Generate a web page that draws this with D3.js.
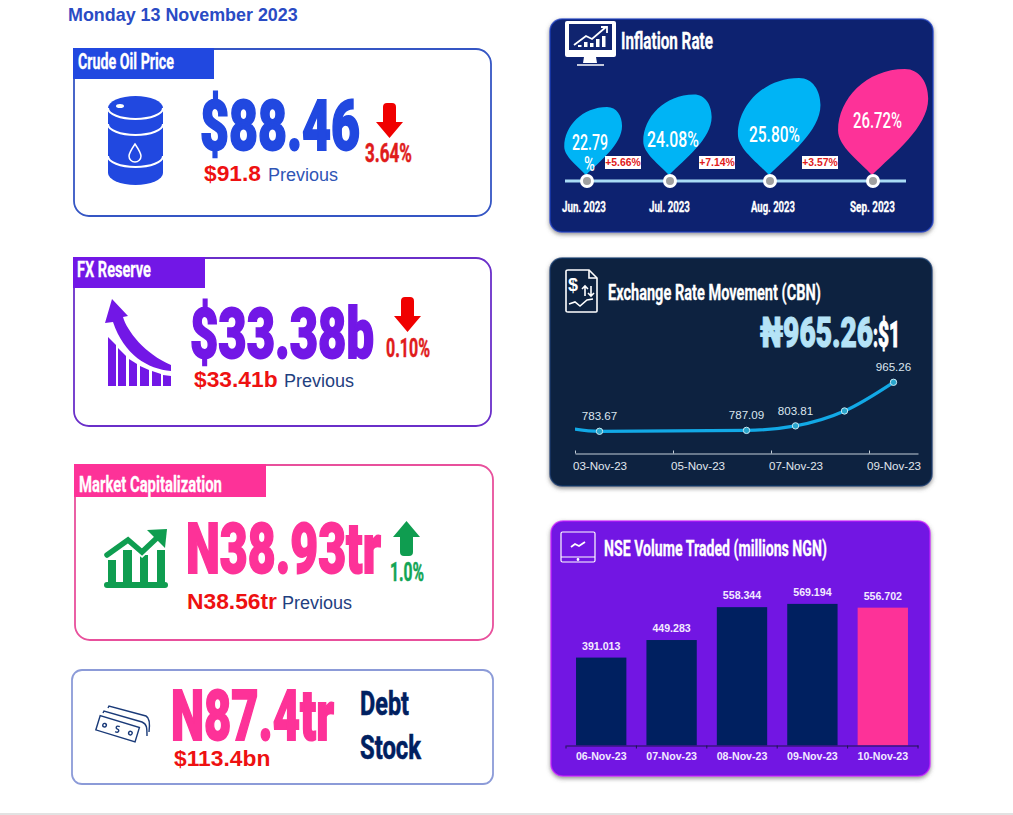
<!DOCTYPE html>
<html>
<head>
<meta charset="utf-8">
<script src="https://cdn.jsdelivr.net/npm/d3@7"></script>
<style>
  html, body { margin: 0; padding: 0; background: #fff; overflow: hidden; }
  svg { display: block; }
</style>
</head>
<body>
<svg id="chart" width="1013" height="815"></svg>
<script>
// Data
const kpiTitles = ['Crude Oil Price', 'FX Reserve', 'Market Capitalization'];
const kpiValues = ['$88.46', '$33.38b', 'N38.93tr'];
const kpiPrevious = ['$91.8', '$33.41b', 'N38.56tr'];
const kpiChanges = ['3.64%', '0.10%', '1.0%'];

const inflationMonths = ['Jun. 2023', 'Jul. 2023', 'Aug. 2023', 'Sep. 2023'];
const inflationRates = [22.79, 24.08, 25.80, 26.72];
const inflationDeltas = ['+5.66%', '+7.14%', '+3.57%'];

// 02-Nov only exists to carry the line in from the left edge of the plot
const rateDates = ['2023-11-02', '2023-11-03', '2023-11-06', '2023-11-07', '2023-11-08', '2023-11-09'];
const rateValues = [808, 783.67, 787.09, 803.81, 859, 965.26];
const rateLabels = ['', '783.67', '787.09', '803.81', '', '965.26'];

const volumeDates = ['06-Nov-23', '07-Nov-23', '08-Nov-23', '09-Nov-23', '10-Nov-23'];
const volumeValues = [391.013, 449.283, 558.344, 569.194, 556.702];

// Colours
const BLUE = '#2148e0', PURPLE = '#7217e6', PINK = '#fd3298', GREEN = '#0f9d50', RED = '#ee1111';
const NAVY = '#002060', SKY = '#00b4f5';

const svg = d3.select('#chart');

let defs = svg.append('defs');
let shadow = defs.append('filter').attr('id', 'panelShadow')
    .attr('x', '-5%').attr('y', '-5%').attr('width', '110%').attr('height', '112%');
shadow.append('feDropShadow').attr('dx', 0).attr('dy', 2).attr('stdDeviation', 2)
    .attr('flood-color', '#555').attr('flood-opacity', 0.65);

const NARROW = 'Roboto, "Liberation Sans", sans-serif';
const ARIAL = '"Liberation Sans", Arial, sans-serif';

// Squeezed text, stands in for the condensed display face of the original.
// Scaled rather than textLength so the text box stays true to what is drawn.
function fit(g, str, x, y, w, size, fill, weight = 700, thick = 0.3) {
    let t = g.append('text')
        .attr('transform', `translate(${x},${y})`)
        .attr('font-family', NARROW).attr('font-weight', weight)
        .attr('font-size', size).attr('fill', fill)
        .attr('stroke', fill).attr('stroke-width', thick)
        .text(str);
    let len = t.node().getComputedTextLength();
    t.attr('transform', `translate(${x},${y}) scale(${w / len},1)`);
    return t;
}

function plain(g, str, x, y, size, fill, weight = 400, anchor = 'start') {
    return g.append('text')
        .attr('x', x).attr('y', y)
        .attr('font-family', ARIAL).attr('font-weight', weight)
        .attr('font-size', size).attr('fill', fill)
        .attr('text-anchor', anchor)
        .text(str);
}

function arrow(g, x, y, color, up) {
    // 27 wide, 35 tall box
    let p = up ? 'M13.5,0 L27,16 L20,16 L20,31 Q20,35 16,35 L11,35 Q7,35 7,31 L7,16 L0,16 Z'
               : 'M13.5,35 L27,19 L20,19 L20,4 Q20,0 16,0 L11,0 Q7,0 7,4 L7,19 L0,19 Z';
    g.append('path').attr('transform', `translate(${x},${y})`).attr('d', p).attr('fill', color);
}

///////////////////////////////////////////////////////////////////////////
// Left column
///////////////////////////////////////////////////////////////////////////

plain(svg, 'Monday 13 November 2023', 68, 20.5, 17.9, '#2a4bc4', 700);

const cards = [
    {x: 74, y: 49, w: 417, h: 167, color: BLUE, stroke: '#3556c4', tab: 140, tabH: 30, titleX: 78, titleY: 69, titleW: 96,
     bigX: 200, bigY: 150, bigW: 160, arrowX: 376, arrowY: 103, up: false, chgX: 365, chgY: 162, chgW: 47,
     prevX: 204, prevY: 181, prevWord: 268, word: '#2f55b5'},
    {x: 74, y: 258, w: 417, h: 168, color: PURPLE, stroke: '#6a2fc9', tab: 131, tabH: 30, titleX: 77, titleY: 277, titleW: 74,
     bigX: 190, bigY: 358, bigW: 184, arrowX: 394, arrowY: 297, up: false, chgX: 386, chgY: 357, chgW: 44,
     prevX: 194, prevY: 387, prevWord: 284, word: '#1f4080'},
    {x: 75, y: 465, w: 418, h: 175, color: PINK, stroke: '#e8509c', tab: 191, tabH: 32, titleX: 79, titleY: 492, titleW: 143,
     bigX: 186, bigY: 573, bigW: 195, arrowX: 393, arrowY: 521, up: true, chgX: 390, chgY: 581, chgW: 34,
     prevX: 187, prevY: 609, prevWord: 282, word: '#1f4080'}
];

cards.forEach(function(c, i) {
    let g = svg.append('g');
    g.append('rect').attr('x', c.x).attr('y', c.y).attr('width', c.w).attr('height', c.h)
        .attr('rx', 15).attr('fill', '#fff').attr('stroke', c.stroke).attr('stroke-width', 1.8);
    g.append('rect').attr('x', c.x - 1).attr('y', c.y - 1).attr('width', c.tab + 1).attr('height', c.tabH + 1)
        .attr('fill', c.color);
    fit(g, kpiTitles[i], c.titleX, c.titleY, c.titleW, 22, '#fff');
    fit(g, kpiValues[i], c.bigX, c.bigY, c.bigW, 71, c.color, 900, 1.8);
    arrow(g, c.arrowX, c.arrowY, c.up ? GREEN : '#f00000', c.up);
    fit(g, kpiChanges[i], c.chgX, c.chgY, c.chgW, 25, c.up ? '#12a555' : '#e01b1b', 700, 0.5);
    plain(g, kpiPrevious[i], c.prevX, c.prevY, 22.8, RED, 700);
    plain(g, 'Previous', c.prevWord, c.prevY, 18, c.word);
});

// Debt card has its own layout
let debt = svg.append('g');
debt.append('rect').attr('x', 72).attr('y', 670).attr('width', 421).attr('height', 114)
    .attr('rx', 10).attr('fill', '#fff').attr('stroke', '#8c9bd8').attr('stroke-width', 1.8);
fit(debt, 'N87.4tr', 171, 740, 163, 71, PINK, 900, 1.8);
plain(debt, '$113.4bn', 174, 766, 22.8, RED, 700);
fit(debt, 'Debt', 360, 715, 49, 33, NAVY, 700, 0.6);
fit(debt, 'Stock', 360, 759, 61, 33, NAVY, 700, 0.6);

// Barrel
let barrel = svg.append('g');
barrel.append('path').attr('d', 'M108,108 A27.5,12 0 0 1 163,108 V173 A27.5,12 0 0 1 108,173 Z').attr('fill', BLUE);
['M108,108 A27.5,11 0 0 0 163,108', 'M108,124 A27.5,11 0 0 0 163,124', 'M108,156 A27.5,11 0 0 0 163,156'].forEach(function(d) {
    barrel.append('path').attr('d', d).attr('fill', 'none').attr('stroke', '#fff').attr('stroke-width', 2);
});
barrel.append('ellipse').attr('cx', 120).attr('cy', 106).attr('rx', 4).attr('ry', 2).attr('fill', '#fff');
barrel.append('path').attr('d', 'M135,144 C139,150 141,153 141,156 A6,6 0 0 1 129,156 C129,153 131,150 135,144 Z')
    .attr('fill', 'none').attr('stroke', '#fff').attr('stroke-width', 1.5);

// FX reserve bars with the curved arrow
let fxIcon = svg.append('g').attr('fill', PURPLE);
fxIcon.append('path').attr('d', 'M108,337 L116,345 V386 H108 Z');
fxIcon.append('path').attr('d', 'M118,348 L126,356 V386 H118 Z');
fxIcon.append('path').attr('d', 'M129,359 L137,364 V386 H129 Z');
fxIcon.append('path').attr('d', 'M140,366 L149,370 V386 H140 Z');
fxIcon.append('path').attr('d', 'M152,371 L161,374 V386 H152 Z');
fxIcon.append('path').attr('d', 'M163,375 L171,376 V386 H163 Z');
fxIcon.append('path').attr('d', 'M112,299 L128,316 L123,317 C127,331 145,354 171,365 V371 C148,369 124,355 113,322 L105,323 Z');

// Market cap bars with the rising line
let capIcon = svg.append('g').attr('fill', GREEN);
capIcon.append('rect').attr('x', 104).attr('y', 582).attr('width', 64).attr('height', 6).attr('rx', 3);
capIcon.append('rect').attr('x', 108).attr('y', 560).attr('width', 8).attr('height', 22);
capIcon.append('rect').attr('x', 123).attr('y', 550).attr('width', 9).attr('height', 32);
capIcon.append('rect').attr('x', 140).attr('y', 555).attr('width', 8).attr('height', 27);
capIcon.append('rect').attr('x', 157).attr('y', 550).attr('width', 8).attr('height', 32);
capIcon.append('path').attr('d', 'M107,555 L128,540 L142,552 L160,535').attr('fill', 'none')
    .attr('stroke', '#fff').attr('stroke-width', 9);
capIcon.append('path').attr('d', 'M107,555 L128,540 L142,552 L160,535').attr('fill', 'none')
    .attr('stroke', GREEN).attr('stroke-width', 5.5).attr('stroke-linecap', 'round');
capIcon.append('path').attr('d', 'M147,530 L167,529 L165,548 Z');

// Banknotes
let notes = svg.append('g').attr('fill', 'none').attr('stroke', '#1a3a78').attr('stroke-width', 1.4);
let bill = notes.append('g').attr('transform', 'translate(117,729) rotate(17)');
bill.append('rect').attr('x', -20).attr('y', -8).attr('width', 41).attr('height', 15);
bill.append('circle').attr('cx', -13).attr('cy', 0).attr('r', 1.8);
bill.append('circle').attr('cx', 14).attr('cy', 0).attr('r', 1.8);
bill.append('path').attr('d', 'M2,-3 C-2,-4 -2,0 0.5,0 C3,0 3,4 -1,3');
notes.append('path').attr('d', 'M103,713 L104,711 L142,722 C147,724 147,728 147,736');
notes.append('path').attr('d', 'M108,708 L109,706 L146,716 C150,718 150,724 149,732');

///////////////////////////////////////////////////////////////////////////
// Right column panels
///////////////////////////////////////////////////////////////////////////

function panel(x, y, w, h, color) {
    let g = svg.append('g');
    g.append('rect').attr('x', x).attr('y', y).attr('width', w).attr('height', h)
        .attr('rx', 12).attr('fill', color).attr('filter', 'url(#panelShadow)')
        .attr('stroke', d3.color(color).brighter(1.6)).attr('stroke-opacity', 0.75).attr('stroke-width', 1.6);
    return g;
}

// Inflation: drops grow with the rate
let inflation = panel(550, 19, 383, 213, '#10246f');
fit(inflation, 'Inflation Rate', 621, 49, 92, 24, '#fff');

let monitor = inflation.append('g');
monitor.append('rect').attr('x', 565).attr('y', 21).attr('width', 51).attr('height', 36).attr('rx', 2).attr('fill', '#fff');
monitor.append('rect').attr('x', 569).attr('y', 24).attr('width', 43).attr('height', 26).attr('fill', '#10246f');
monitor.append('path').attr('d', 'M584,57 H596 L597,63 H583 Z').attr('fill', '#fff');
monitor.append('path').attr('d', 'M577,65 H604').attr('stroke', '#fff').attr('stroke-width', 1.5);
monitor.append('path').attr('d', 'M574,45 L586,36 L592,39 L606,27').attr('fill', 'none').attr('stroke', '#fff').attr('stroke-width', 1.8);
monitor.append('path').attr('d', 'M601,27 H607 V33').attr('fill', 'none').attr('stroke', '#fff').attr('stroke-width', 1.8);
[[578, 45], [584, 42], [590, 43], [596, 39], [602, 36]].forEach(function(b) {
    monitor.append('rect').attr('x', b[0]).attr('y', b[1]).attr('width', 3.5).attr('height', 47 - b[1]).attr('fill', '#fff');
});

const inflationX = d3.scaleOrdinal().domain(inflationMonths).range([587, 670, 770, 873]);
const dropHeight = d3.scaleLinear().domain([22.79, 26.72]).range([68, 106]);
const dropPath = 'M0,0 C-0.12,-0.13 -0.32,-0.27 -0.32,-0.42 C-0.32,-0.72 -0.05,-1 0.31,-1 C0.45,-1 0.53,-0.87 0.53,-0.72 C0.53,-0.45 0.2,-0.2 0,0 Z';
const TIMELINE_Y = 181;

inflation.append('line').attr('x1', 565).attr('x2', 906).attr('y1', TIMELINE_Y).attr('y2', TIMELINE_Y)
    .attr('stroke', '#a9dcf5').attr('stroke-width', 3);

inflation.selectAll('path.drop').data(inflationRates).enter().append('path')
    .attr('class', 'drop')
    .attr('d', dropPath)
    .attr('transform', (d, i) => `translate(${inflationX(inflationMonths[i]) - 1},${TIMELINE_Y - 6}) scale(${dropHeight(d)})`)
    .attr('fill', (d, i) => i === inflationRates.length - 1 ? PINK : SKY);

inflation.selectAll('circle.knob').data(inflationMonths).enter().append('circle')
    .attr('class', 'knob').attr('cx', d => inflationX(d)).attr('cy', TIMELINE_Y)
    .attr('r', 5.5).attr('fill', '#a0a0a0').attr('stroke', '#fff').attr('stroke-width', 3);

const inflationTextPos = [[572, 150, 36], [647, 147, 52], [749, 142, 51], [853, 128, 49]];
inflationRates.forEach(function(v, i) {
    let p = inflationTextPos[i];
    let suffix = i === 0 ? '' : '%';
    fit(inflation, d3.format('.2f')(v) + suffix, p[0], p[1], p[2], 22, '#fff', 500, 0);
});
fit(inflation, '%', 584, 171, 11, 21, '#fff', 500, 0);

const monthTextPos = [[562, 44], [649, 41], [751, 44], [850, 45]];
inflationMonths.forEach(function(m, i) {
    fit(inflation, m, monthTextPos[i][0], 212, monthTextPos[i][1], 15.5, '#fff');
});

const deltaX = [605, 699, 802];
inflationDeltas.forEach(function(d, i) {
    inflation.append('rect').attr('x', deltaX[i]).attr('y', 156).attr('width', 36).attr('height', 13).attr('fill', '#fff');
    plain(inflation, d, deltaX[i] + 18, 166, 10.4, '#e01b1b', 700, 'middle');
});

// Exchange rate line
let exchange = panel(550, 258, 382, 228, '#0d2340');
fit(exchange, 'Exchange Rate Movement (CBN)', 608, 300, 213, 22, '#fff');
fit(exchange, '₦965.26', 760, 347, 113, 42, '#b5e3f7', 900, 1.2);
fit(exchange, ':', 873, 347, 5, 34, '#fff', 900, 0.8);
fit(exchange, '$1', 878, 347, 22, 37, '#fff', 900, 1);

let doc = exchange.append('g').attr('fill', 'none').attr('stroke', '#fff').attr('stroke-width', 1.6);
doc.append('path').attr('d', 'M568,270 H589 L597,278 V311 Q597,312 596,312 H568 Q566,312 566,311 V271 Q566,270 568,270 Z');
doc.append('path').attr('d', 'M589,270 V278 H597');
doc.append('path').attr('d', 'M569,304 L575,302 L580,306 L587,300 L593,299');
doc.append('path').attr('d', 'M585,296 V286 M582,289 L585,286 L588,289 M591,286 V296 M588,293 L591,296 L594,293');
plain(exchange, '$', 568, 291, 18, '#fff', 700);

const parseDay = d3.timeParse('%Y-%m-%d');
const rateX = d3.scaleTime().domain([parseDay('2023-11-03'), parseDay('2023-11-10')]).range([575, 918]);
const rateY = d3.scaleLinear().domain([783.67, 965.26]).range([431.3, 382.3]);
const dayWidth = (rateX.range()[1] - rateX.range()[0]) / 7;
const rateRows = rateDates.map((d, i) => ({x: rateX(parseDay(d)) + dayWidth / 2, y: rateY(rateValues[i]), label: rateLabels[i], date: d}));

defs.append('clipPath').attr('id', 'ratePlot').append('rect')
    .attr('x', 575).attr('y', 360).attr('width', 343).attr('height', 90);

let rateLine = d3.line().x(d => d.x).y(d => d.y).curve(d3.curveMonotoneX);
exchange.append('path').datum(rateRows)
    .attr('clip-path', 'url(#ratePlot)')
    .attr('d', rateLine).attr('fill', 'none').attr('stroke', '#12a9e6').attr('stroke-width', 3.2);

let ratePoints = rateRows.slice(1);
exchange.selectAll('circle.rate').data(ratePoints).enter().append('circle')
    .attr('class', 'rate').attr('cx', d => d.x).attr('cy', d => d.y).attr('r', 3.2)
    .attr('fill', '#2aa6cc').attr('stroke', '#c6e8f2').attr('stroke-width', 1);
exchange.selectAll('text.rate').data(ratePoints.filter(d => d.label)).enter().append('text')
    .attr('class', 'rate').attr('x', d => d.x).attr('y', d => d.y - 11)
    .attr('text-anchor', 'middle').attr('font-family', ARIAL).attr('font-size', 11.6).attr('fill', '#dbe6ef')
    .text(d => d.label);

let rateAxis = d3.axisBottom(rateX)
    .tickValues(['2023-11-03', '2023-11-05', '2023-11-07', '2023-11-09'].map(parseDay))
    .tickFormat(d3.timeFormat('%d-%b-%y'))
    .tickSize(4).tickSizeOuter(0);
let rateAxisG = exchange.append('g').attr('transform', 'translate(0,453.5)').call(rateAxis);
rateAxisG.selectAll('path.domain, line').attr('stroke', '#c4ced8').attr('stroke-width', 1);
rateAxisG.selectAll('line').attr('y2', -3);
rateAxisG.selectAll('text').attr('x', dayWidth / 2).attr('y', 8).attr('fill', '#e0e7ee')
    .attr('font-family', ARIAL).attr('font-size', 11.6);

// NSE volume bars, the axis does not start at zero
let volume = panel(551, 521, 379, 255, '#7212e3');
fit(volume, 'NSE Volume Traded (millions NGN)', 604, 556, 223, 22, '#fff');

let tablet = volume.append('g').attr('fill', 'none').attr('stroke', '#fff').attr('stroke-width', 1.2);
tablet.append('rect').attr('x', 561).attr('y', 532).attr('width', 34).attr('height', 30).attr('rx', 1.5);
tablet.append('path').attr('d', 'M561,557 H595');
tablet.append('path').attr('d', 'M571,547 L575,544 L579,546 L585,542').attr('stroke-width', 1.8);
tablet.append('circle').attr('cx', 578).attr('cy', 559.5).attr('r', 0.8).attr('fill', '#fff');

const volumeX = d3.scaleBand().domain(volumeDates).range([566, 918]).paddingInner(0.285).paddingOuter(0.1425);
const volumeY = d3.scaleLinear().domain([100, 600]).range([745.3, 594.6]);

volume.selectAll('rect.bar').data(volumeValues).enter().append('rect')
    .attr('class', 'bar')
    .attr('x', (d, i) => volumeX(volumeDates[i]))
    .attr('y', d => volumeY(d))
    .attr('width', volumeX.bandwidth())
    .attr('height', d => volumeY(100) - volumeY(d))
    .attr('fill', (d, i) => i === volumeValues.length - 1 ? PINK : NAVY);

volume.selectAll('text.barLabel').data(volumeValues).enter().append('text')
    .attr('class', 'barLabel')
    .attr('x', (d, i) => volumeX(volumeDates[i]) + volumeX.bandwidth() / 2)
    .attr('y', d => volumeY(d) - 8)
    .attr('text-anchor', 'middle').attr('font-family', ARIAL).attr('font-weight', 700)
    .attr('font-size', 10.6).attr('fill', '#f2eaff')
    .text(d => d3.format('.3f')(d));

let volumeAxisG = volume.append('g').attr('transform', 'translate(0,745.5)')
    .call(d3.axisBottom(volumeX).tickSize(0).tickPadding(7));
volumeAxisG.select('path.domain').attr('stroke', '#1c1550');
volumeAxisG.selectAll('text').attr('fill', '#f2eaff').attr('font-family', ARIAL)
    .attr('font-weight', 700).attr('font-size', 10.6);
// ticks sit between the bands
d3.range(volumeDates.length + 1).forEach(function(i) {
    let tx = volumeX.range()[0] + i * volumeX.step();
    volumeAxisG.append('line').attr('x1', tx).attr('x2', tx).attr('y1', 0).attr('y2', 3).attr('stroke', '#1c1550');
});

// Page footer rule
svg.append('line').attr('x1', 0).attr('x2', 1013).attr('y1', 814).attr('y2', 814)
    .attr('stroke', '#d9d9d9').attr('stroke-width', 1.5);
</script>
</body>
</html>
